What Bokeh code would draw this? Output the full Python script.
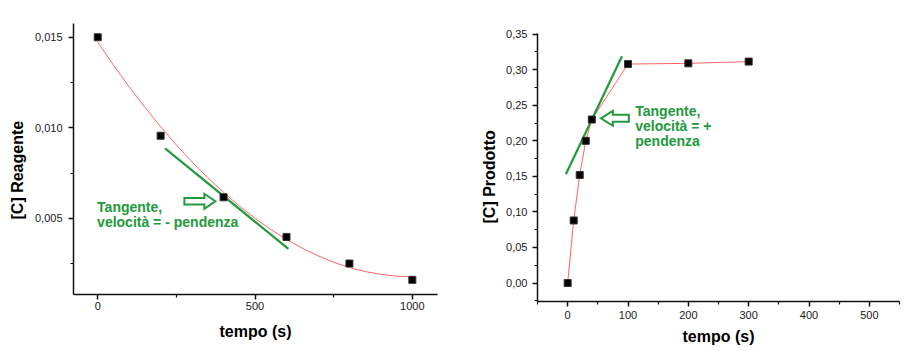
from bokeh.plotting import figure
from bokeh.models import FixedTicker, Label, Range1d, Title
from bokeh.embed import file_html
from bokeh.resources import INLINE
from jinja2 import Template

# ---------------- data: left chart (reagent) ----------------
reag_t = [0, 200, 400, 600, 800, 1000]
reag_c = [0.0150, 0.00956, 0.00616, 0.00397, 0.00250, 0.00160]
# red fit curve
fit_t = [0, 50, 100, 150, 200, 250, 300, 350, 400, 450, 500,
         550, 600, 650, 700, 750, 800, 850, 900, 950, 1000]
fit_c = [0.01473, 0.01346, 0.01226, 0.01113, 0.01006, 0.00905, 0.00811,
         0.00724, 0.00643, 0.00568, 0.00500, 0.00438, 0.00383, 0.00335,
         0.00293, 0.00257, 0.00228, 0.00206, 0.00190, 0.00180, 0.00177]
tan1_t = [214, 606]
tan1_c = [0.00886, 0.00331]
left_xticks = [0, 500, 1000]
left_xlabels = ["0", "500", "1000"]
left_xminor = [250, 750]
left_yticks = [0.005, 0.010, 0.015]
left_ylabels = ["0,005", "0,010", "0,015"]
left_yminor = [0.0025, 0.0075, 0.0125]

# ---------------- data: right chart (product) ----------------
prod_t = [0, 10, 20, 30, 40, 100, 200, 300]
prod_c = [0.000, 0.088, 0.152, 0.200, 0.230, 0.308, 0.309, 0.3115]
tan2_t = [-3, 90]
tan2_c = [0.153, 0.319]
right_xticks = [0, 100, 200, 300, 400, 500]
right_xlabels = ["0", "100", "200", "300", "400", "500"]
right_xminor = [-50, 50, 150, 250, 350, 450, 550]
right_yticks = [0.00, 0.05, 0.10, 0.15, 0.20, 0.25, 0.30, 0.35]
right_ylabels = ["0,00", "0,05", "0,10", "0,15", "0,20", "0,25", "0,30", "0,35"]
right_yminor = [-0.025, 0.025, 0.075, 0.125, 0.175, 0.225, 0.275, 0.325]

GREEN = "#229a3c"
RED = "#ff6464"
FONT = "Liberation Sans"


def style(p, xt, xl, xm, yt, yl, ym, xstand, ystand):
    p.xgrid.visible = False
    p.ygrid.visible = False
    p.outline_line_color = None
    p.xaxis.ticker = FixedTicker(ticks=xt, minor_ticks=xm)
    p.yaxis.ticker = FixedTicker(ticks=yt, minor_ticks=ym)
    p.xaxis.major_label_overrides = {t: s for t, s in zip(xt, xl)}
    p.yaxis.major_label_overrides = {t: s for t, s in zip(yt, yl)}
    for ax in (p.xaxis[0], p.yaxis[0]):
        ax.axis_line_width = 1.5
        ax.axis_line_color = "#111111"
        ax.major_tick_line_width = 1.5
        ax.minor_tick_line_width = 1.2
        ax.major_tick_line_color = "#111111"
        ax.minor_tick_line_color = "#111111"
        ax.major_tick_out = 5
        ax.major_tick_in = 0
        ax.minor_tick_out = 3
        ax.minor_tick_in = 0
        ax.major_label_text_font = FONT
        ax.major_label_text_font_size = "11px"
        ax.major_label_text_color = "#1a1a1a"
    p.xaxis.major_label_standoff = xstand
    p.yaxis.major_label_standoff = ystand


def axis_title(p, text, side, align, offset, standoff):
    p.add_layout(Title(text=text, align=align, offset=offset, standoff=standoff,
                       vertical_align="middle", text_font=FONT, text_font_size="16px",
                       text_font_style="bold", text_color="black"), side)


def arrow_patch(p, tip_x, tip_y, direction, sx, sy, tail_len, head_len, head_half, shaft_half):
    # sx, sy: data units per pixel; direction +1 right-pointing, -1 left-pointing
    d = direction
    neck = tip_x - d * head_len * sx
    tail = tip_x - d * tail_len * sx
    xs = [tip_x, neck, neck, tail, tail, neck, neck]
    ys = [tip_y, tip_y + head_half * sy, tip_y + shaft_half * sy, tip_y + shaft_half * sy,
          tip_y - shaft_half * sy, tip_y - shaft_half * sy, tip_y - head_half * sy]
    p.patch(xs, ys, fill_color="white", line_color=GREEN, line_width=2, line_join="miter")


def note(p, lines, x, y, step):
    for i, s in enumerate(lines):
        p.add_layout(Label(x=x, y=y, y_offset=-step * i, text=s, text_font=FONT,
                           text_font_size="14px", text_font_style="bold", text_color=GREEN,
                           text_baseline="alphabetic"))


# ---------------- left figure ----------------
LX0, LX1, LY0, LY1 = -77, 1080, 0.00079, 0.01576
p1 = figure(width=450, height=351, output_backend="svg", toolbar_location=None,
            title_location=None, name="p1",
            x_range=Range1d(LX0, LX1), y_range=Range1d(LY0, LY1),
            min_border_left=73, min_border_right=13, min_border_top=23, min_border_bottom=57)
style(p1, left_xticks, left_xlabels, left_xminor, left_yticks, left_ylabels, left_yminor, 2, 6)
p1.line(fit_t, fit_c, line_color=RED, line_width=1)
p1.line(tan1_t, tan1_c, line_color=GREEN, line_width=2.2)
p1.scatter(reag_t, reag_c, marker="square", size=7, fill_color="black", line_color="#333333")
lsx = (LX1 - LX0) / 364.0
lsy = (LY1 - LY0) / 271.0
arrow_patch(p1, 374, 0.00594, 1, lsx, lsy, 31, 11, 7.5, 3.2)
note(p1, ["Tangente,", "velocità = - pendenza"], -2, 0.00561, 14.5)
axis_title(p1, "tempo (s)", "below", "center", 0, 18)
axis_title(p1, "[C] Reagente", "left", "left", 75, 10)

# ---------------- right figure ----------------
RX0, RX1, RY0, RY1 = -50, 550, -0.026, 0.351
p2 = figure(width=457, height=351, output_backend="svg", toolbar_location=None,
            title_location=None, name="p2",
            x_range=Range1d(RX0, RX1), y_range=Range1d(RY0, RY1),
            min_border_left=87, min_border_right=8, min_border_top=33, min_border_bottom=50)
style(p2, right_xticks, right_xlabels, right_xminor, right_yticks, right_ylabels, right_yminor, 4, 5)
p2.line(prod_t, prod_c, line_color=RED, line_width=1)
p2.line(tan2_t, tan2_c, line_color=GREEN, line_width=2.2)
p2.scatter(prod_t, prod_c, marker="square", size=7, fill_color="black", line_color="#333333")
rsx = (RX1 - RX0) / 362.0
rsy = (RY1 - RY0) / 268.0
arrow_patch(p2, 55, 0.2317, -1, rsx, rsy, 28, 12, 7.5, 3.5)
note(p2, ["Tangente,", "velocità = +", "pendenza"], 112, 0.2422, 15)
axis_title(p2, "tempo (s)", "below", "center", 0, 10)
axis_title(p2, "[C] Prodotto", "left", "left", 78, 10)

# two independent roots side by side (so their frames are not aligned to each other)
template = Template("""\
{% extends base %}
{% block preamble %}<style>html, body {margin:0; padding:0;}</style>{% endblock %}
{% block contents %}
<div style="display:flex; flex-direction:row; align-items:flex-start;">
<div style="width:450px; height:351px;">{{ embed(roots.p1) }}</div>
<div style="width:457px; height:351px;">{{ embed(roots.p2) }}</div>
</div>
{% endblock %}
""")
open("out.html", "w").write(file_html([p1, p2], INLINE, template=template))
